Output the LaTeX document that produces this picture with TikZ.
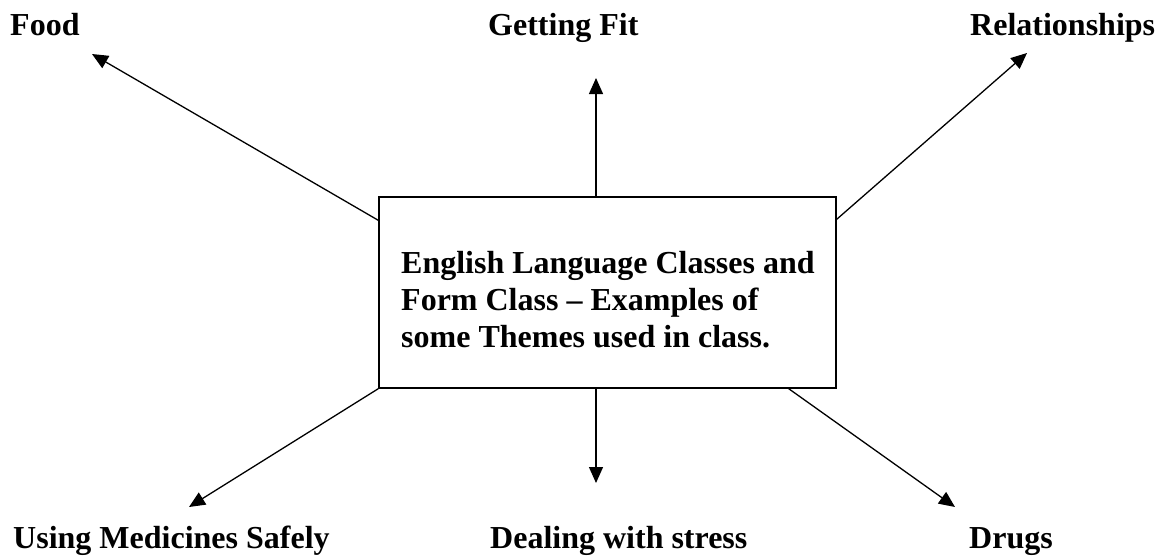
\documentclass[tikz,border=0pt]{standalone}
\usepackage{fontspec}
\setmainfont{Liberation Serif}
\usetikzlibrary{arrows.meta,calc}
\tikzset{
  label/.style={inner sep=0pt, anchor=base west, font=\fontsize{32}{37}\selectfont\bfseries},
  themebox/.style={draw, line width=1.3pt, minimum width=457pt, minimum height=191pt, inner sep=0pt},
  themearrow/.style={line width=1.3pt, -{Triangle[length=16pt,width=14pt]}}
}
\begin{document}
\begin{tikzpicture}[x=1pt,y=-1pt]
\useasboundingbox (0,0) rectangle (1159,557);
\node[themebox] (box) at (607.5,292.5) {};
\node[label, anchor=north west, align=left] (boxtext) at (401,251)
  {English Language Classes and\\Form Class -- Examples of\\some Themes used in class.};
\node[label] (food) at (10,35) {Food};
\node[label] (fit) at (488,35) {Getting Fit};
\node[label] (rel) at (970,35) {Relationships};
\node[label] (med) at (13,548) {Using Medicines Safely};
\node[label] (stress) at (490,548) {Dealing with stress};
\node[label] (drugs) at (969,548) {Drugs};
\coordinate (tfood) at (92,54);
\coordinate (tfit) at (596,78);
\coordinate (trel) at (1027,53);
\coordinate (tmed) at (189,507);
\coordinate (tstress) at (596,483);
\coordinate (tdrugs) at (955,507);
\draw[themearrow] ([yshift=-24pt]box.north west) -- (tfood);
\draw[themearrow] ([xshift=-11.5pt]box.north) -- (tfit);
\draw[themearrow] ([yshift=-23pt]box.north east) -- (trel);
\draw[themearrow] (box.south west) -- (tmed);
\draw[themearrow] ([xshift=-11.5pt]box.south) -- (tstress);
\draw[themearrow] ([xshift=-48pt]box.south east) -- (tdrugs);
\end{tikzpicture}
\end{document}
